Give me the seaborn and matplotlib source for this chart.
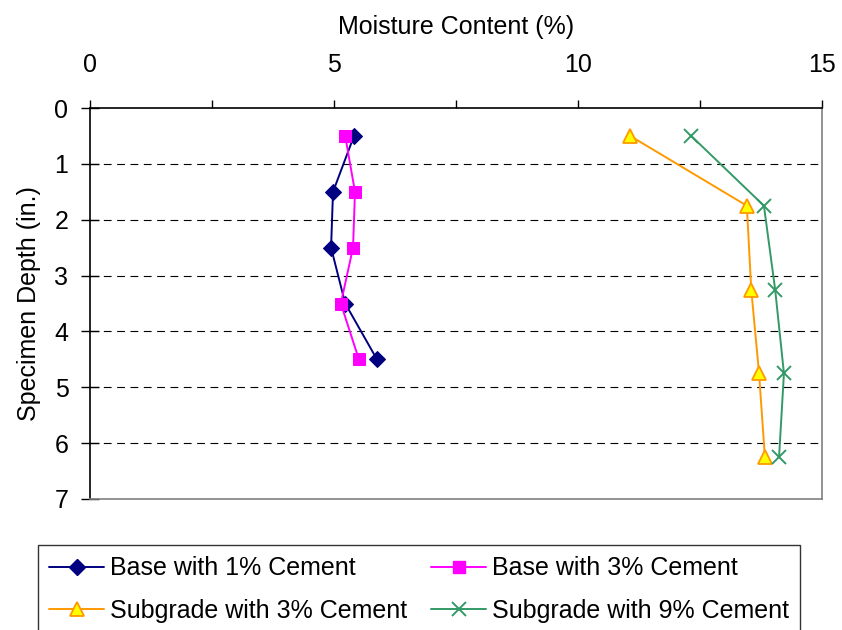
import matplotlib
matplotlib.use("Agg")
import matplotlib.pyplot as plt
import seaborn as sns
import pandas as pd
from matplotlib.lines import Line2D

base_depth = [0.5, 1.5, 2.5, 3.5, 4.5]
base_1pct = [5.41, 4.98, 4.94, 5.23, 5.88]
base_3pct = [5.23, 5.43, 5.39, 5.14, 5.51]
sub_depth = [0.5, 1.75, 3.25, 4.75, 6.25]
sub_3pct = [11.07, 13.46, 13.55, 13.71, 13.83]
sub_9pct = [12.32, 13.81, 14.04, 14.22, 14.12]

labels = ["Base with 1% Cement", "Base with 3% Cement",
          "Subgrade with 3% Cement", "Subgrade with 9% Cement"]
x_ticks = [0, 5, 10, 15]
y_ticks = [0, 1, 2, 3, 4, 5, 6, 7]

sns.set_style("white")
plt.rcParams['font.family'] = ['Liberation Sans', 'DejaVu Sans']
for k in ["text.color", "axes.labelcolor", "xtick.color", "ytick.color"]:
    plt.rcParams[k] = "black"

FS = 18

fig = plt.figure(figsize=(8.42, 6.3), dpi=100)
ax = fig.add_axes([90/842, 1-499/630, 732/842, 391/630])

styles = [
    dict(color="#000080", marker="D", markersize=8, markerfacecolor="#000080", markeredgecolor="#000080"),
    dict(color="#FF00FF", marker="s", markersize=8, markerfacecolor="#FF00FF", markeredgecolor="#FF00FF"),
    dict(color="#FF9900", marker="^", markersize=10, markerfacecolor="#FFFF00", markeredgecolor="#FF9900", markeredgewidth=1.3),
    dict(color="#339966", marker="x", markersize=10, markeredgecolor="#339966", markeredgewidth=1.4),
]
series = [(base_1pct, base_depth), (base_3pct, base_depth), (sub_3pct, sub_depth), (sub_9pct, sub_depth)]

handles = []
for (xs, ys), st, lab in zip(series, styles, labels):
    df = pd.DataFrame({"x": xs, "y": ys})
    sns.lineplot(data=df, x="x", y="y", sort=False, estimator=None, ax=ax,
                 linewidth=1.4, **st)
    handles.append(Line2D([], [], linewidth=1.4, **st))

ax.set_xlim(0, 15)
ax.set_ylim(7, 0)
ax.xaxis.tick_top()
ax.xaxis.set_label_position("top")
ax.set_xticks([0, 2.5, 5, 7.5, 10, 12.5, 15])
ax.set_xticklabels(["0", "", "5", "", "10", "", "15"])
ax.set_yticks(y_ticks)
ax.tick_params(axis="x", which="both", direction="out", length=6, width=1, color="black",
               labelsize=FS, pad=16, top=True, bottom=False)
ax.tick_params(axis="y", direction="inout", length=13, width=1, color="black", labelsize=FS,
               left=True, pad=9)
ax.set_xlabel("Moisture Content (%)", fontsize=FS, labelpad=14)
ax.set_ylabel("Specimen Depth (in.)", fontsize=FS, labelpad=10)

for yv in range(1, 7):
    ax.axhline(yv, color="black", linewidth=0.8, linestyle=(0, (7, 5)), zorder=0)

for side in ["top", "left"]:
    ax.spines[side].set_color("black")
    ax.spines[side].set_linewidth(1.2)
for side in ["bottom", "right"]:
    ax.spines[side].set_color("#808080")
    ax.spines[side].set_linewidth(1.2)
    ax.spines[side].set_visible(True)

order = [0, 2, 1, 3]
leg = fig.legend([handles[i] for i in order], [labels[i] for i in order],
                 loc="upper left", bbox_to_anchor=(38/842, 1-545/630),
                 ncol=2, fontsize=FS, frameon=True, fancybox=False, edgecolor="black",
                 handlelength=2.2, handletextpad=0.24, columnspacing=0.95, labelspacing=0.75,
                 borderpad=0.45, borderaxespad=0)
leg.get_frame().set_linewidth(1.0)

fig.savefig("out.png", dpi=100)
